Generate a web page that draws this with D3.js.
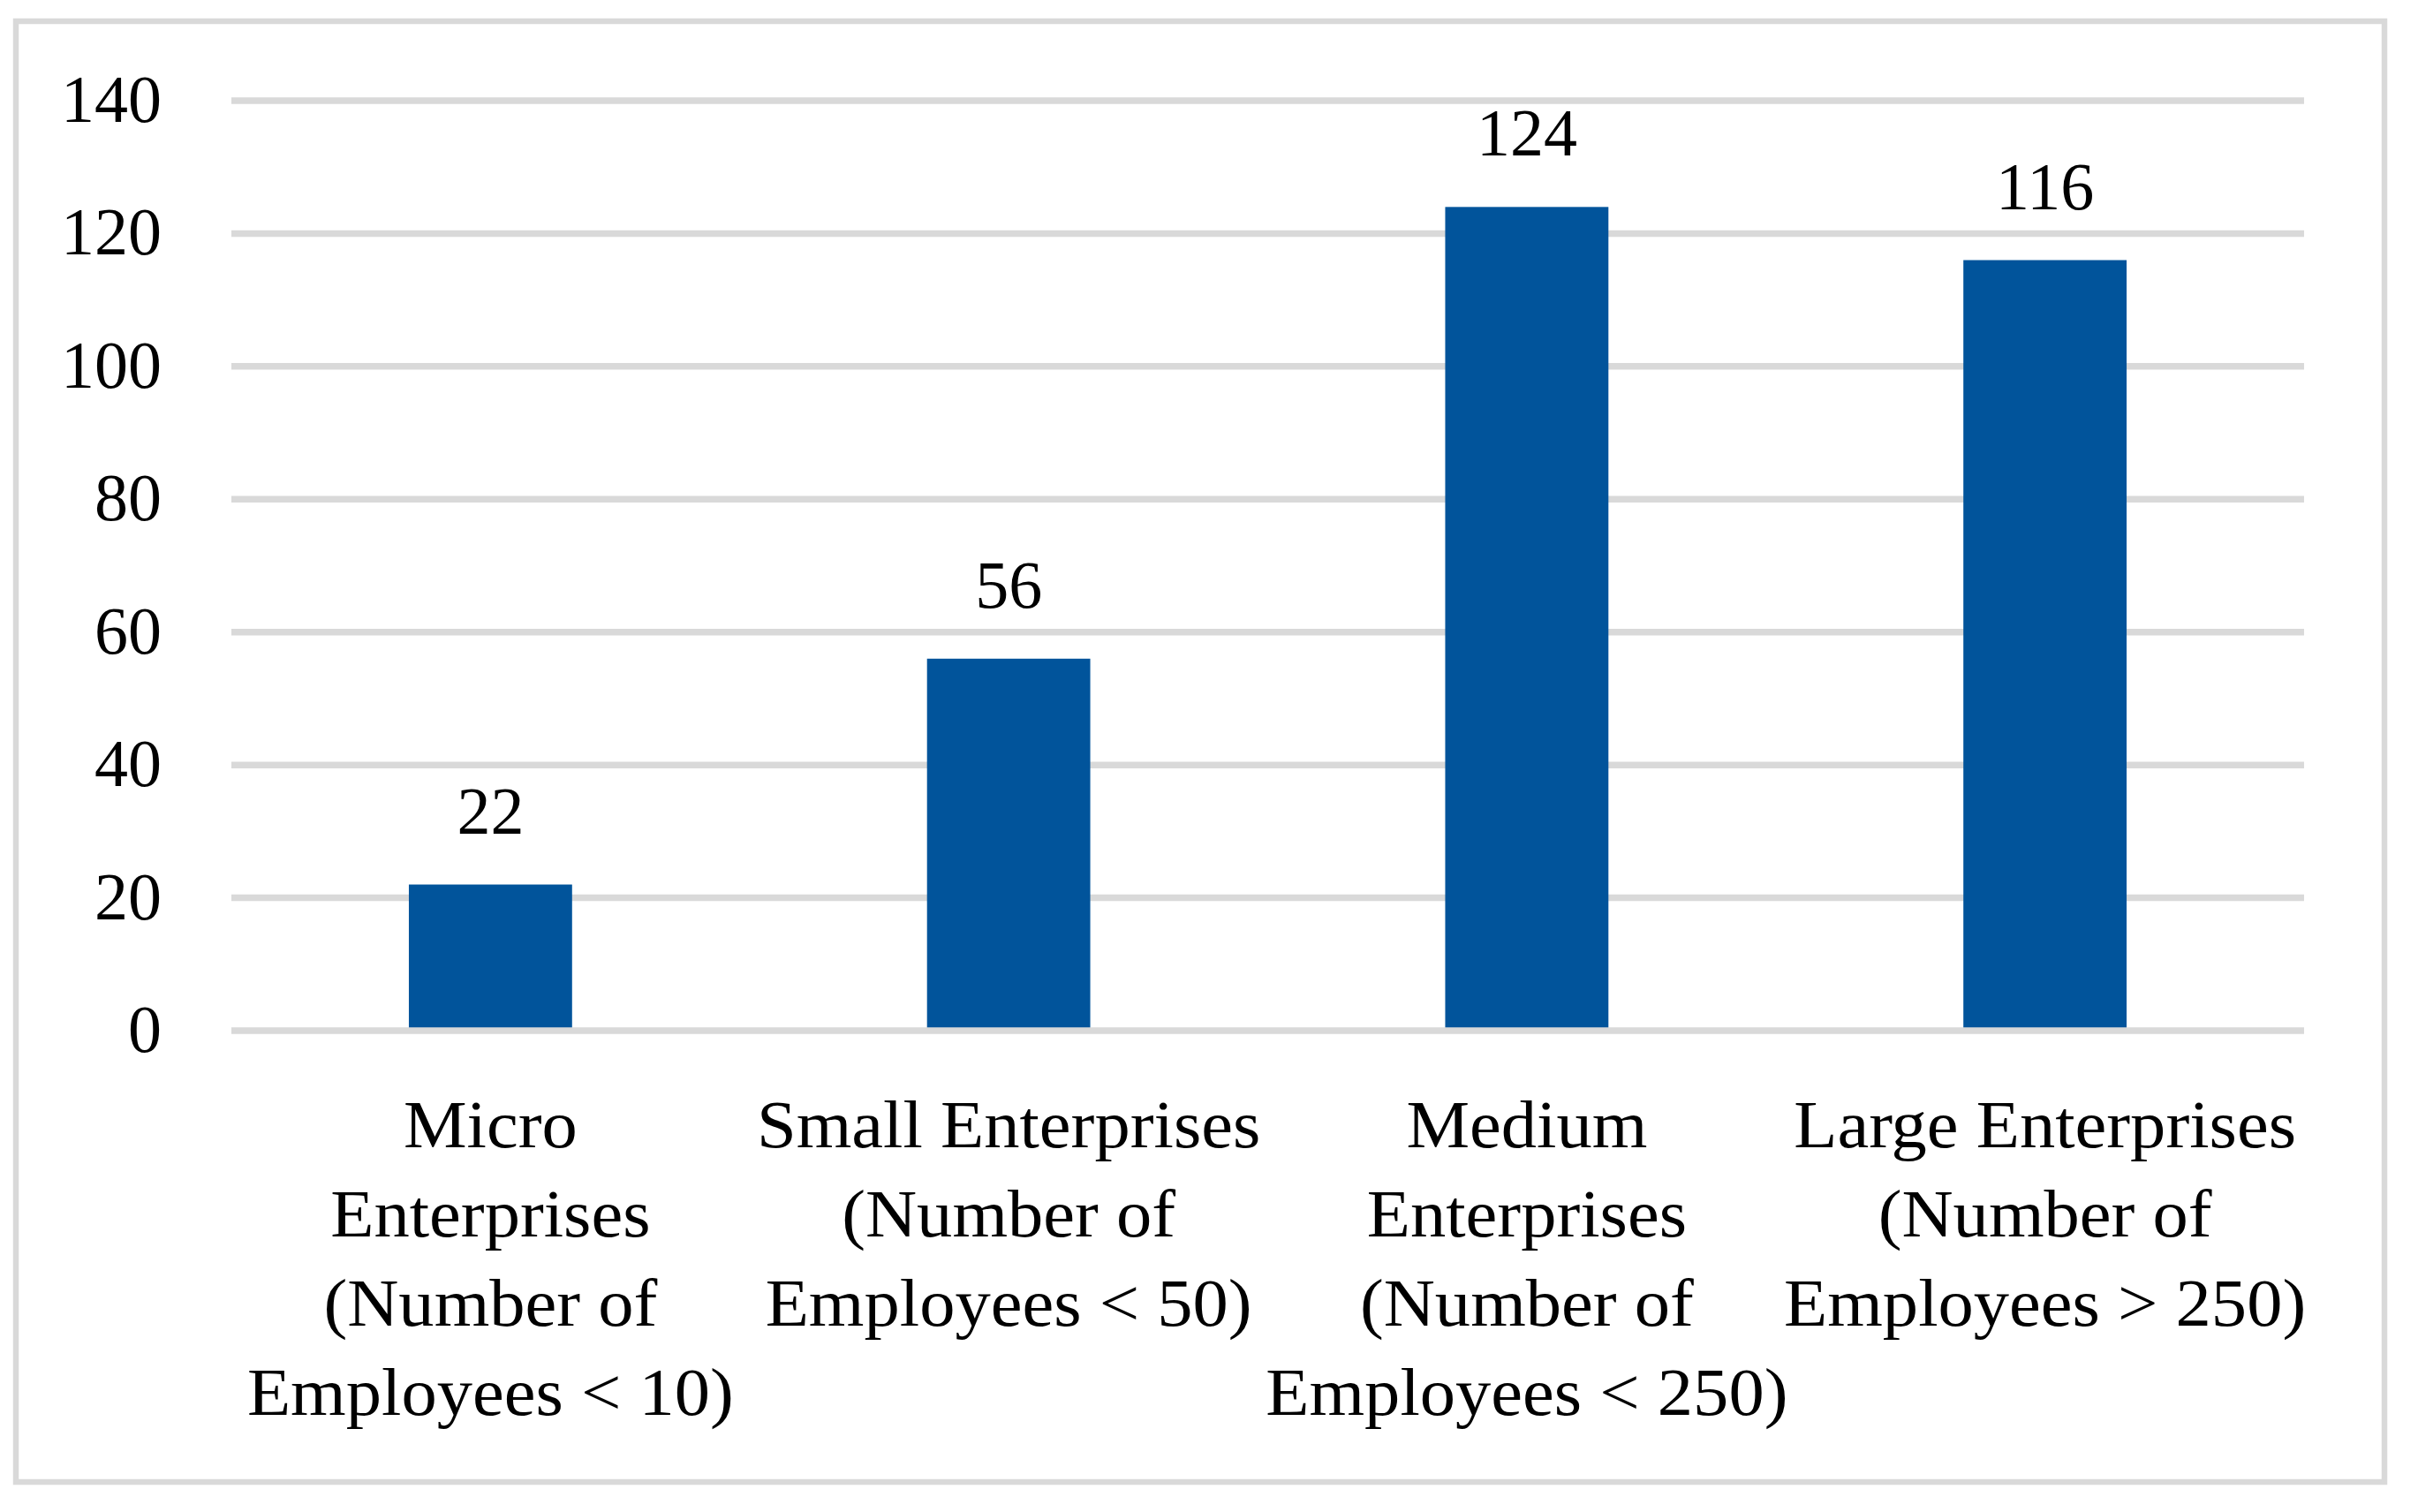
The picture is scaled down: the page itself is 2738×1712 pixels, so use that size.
<!DOCTYPE html>
<html>
<head>
<meta charset="utf-8">
<script src="https://cdn.jsdelivr.net/npm/d3@7"></script>
<style>
  html, body { margin: 0; padding: 0; background: #fff; }
  svg { display: block; }
</style>
</head>
<body>
<svg id="chart"></svg>
<script>
// Chart data
const categories = ["Micro", "Small", "Medium", "Large"];
const values = [22, 56, 124, 116];
const categoryLines = [
  ["Micro", "Enterprises", "(Number of", "Employees < 10)"],
  ["Small Enterprises", "(Number of", "Employees < 50)"],
  ["Medium", "Enterprises", "(Number of", "Employees < 250)"],
  ["Large Enterprises", "(Number of", "Employees > 250)"]
];
const yTicks = [0, 20, 40, 60, 80, 100, 120, 140];

const svgWidth = 2738, svgHeight = 1712;
const plot = { left: 262, right: 2609, top: 114, bottom: 1167 };
const fontFamily = "'Liberation Serif', 'Times New Roman', serif";
const fontSize = 76;
const barColor = "#01549b";
const gridColor = "#d9d9d9";

const svg = d3.select("#chart")
  .attr("width", svgWidth)
  .attr("height", svgHeight);

svg.append("rect")
  .attr("width", svgWidth)
  .attr("height", svgHeight)
  .attr("fill", "#fff");

// outer frame
svg.append("rect")
  .attr("x", 18)
  .attr("y", 24)
  .attr("width", 2700 - 18)
  .attr("height", 1678 - 24)
  .attr("fill", "none")
  .attr("stroke", gridColor)
  .attr("stroke-width", 6.5);

const x = d3.scaleBand()
  .domain(categories)
  .range([plot.left, plot.right])
  .paddingInner(0.685)
  .paddingOuter(0.3425);

const y = d3.scaleLinear()
  .domain([0, 140])
  .range([plot.bottom, plot.top]);

// gridlines
svg.append("g")
  .selectAll("line")
  .data(yTicks.filter(d => d > 0))
  .enter().append("line")
    .attr("x1", plot.left)
    .attr("x2", plot.right)
    .attr("y1", d => y(d))
    .attr("y2", d => y(d))
    .attr("stroke", gridColor)
    .attr("stroke-width", 7.5);

// y tick labels
svg.append("g")
  .selectAll("text")
  .data(yTicks)
  .enter().append("text")
    .attr("x", 183)
    .attr("y", d => y(d) + 24)
    .attr("text-anchor", "end")
    .attr("font-family", fontFamily)
    .attr("font-size", fontSize)
    .attr("fill", "#000")
    .text(d => d);

// bars
svg.append("g")
  .selectAll("rect")
  .data(values)
  .enter().append("rect")
    .attr("x", (d, i) => x(categories[i]))
    .attr("y", d => y(d))
    .attr("width", x.bandwidth())
    .attr("height", d => y(0) - y(d))
    .attr("fill", barColor);

// category axis line on top of bars
svg.append("line")
  .attr("x1", plot.left)
  .attr("x2", plot.right)
  .attr("y1", y(0))
  .attr("y2", y(0))
  .attr("stroke", gridColor)
  .attr("stroke-width", 7.5);

// value labels
svg.append("g")
  .selectAll("text")
  .data(values)
  .enter().append("text")
    .attr("x", (d, i) => x(categories[i]) + x.bandwidth() / 2)
    .attr("y", d => y(d) - 58)
    .attr("text-anchor", "middle")
    .attr("font-family", fontFamily)
    .attr("font-size", fontSize)
    .attr("fill", "#000")
    .text(d => d);

// category labels, wrapped like the original
// (stretched a little: the original face is wider than Times)
const catLabels = svg.append("g")
  .selectAll("text")
  .data(categories)
  .enter().append("text")
    .attr("transform", c => "translate(" + (x(c) + x.bandwidth() / 2) + "," + y(0) + ") scale(1.06,1)")
    .attr("text-anchor", "middle")
    .attr("font-family", fontFamily)
    .attr("font-size", fontSize)
    .attr("fill", "#000");

catLabels.each(function(c, i) {
  d3.select(this).selectAll("tspan")
    .data(categoryLines[i])
    .enter().append("tspan")
      .attr("x", 0)
      .attr("y", (d, j) => 132 + j * 101)
      .text(d => d);
});
</script>
</body>
</html>
